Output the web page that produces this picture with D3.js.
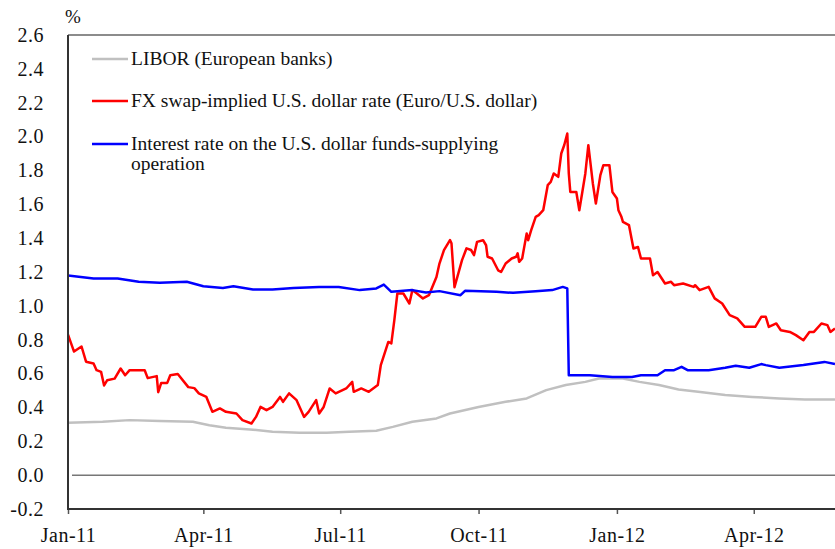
<!DOCTYPE html>
<html>
<head>
<meta charset="utf-8">
<script src="https://cdn.jsdelivr.net/npm/d3@7"></script>
<style>
  body { margin: 0; background: #fff; }
  text { font-family: "Liberation Serif", "Times New Roman", serif; fill: #111; }
</style>
</head>
<body>
<script>
// LIBOR (European banks), %
var liborData = [
    ["2011-01-01", 0.31], ["2011-01-24", 0.315], ["2011-02-11", 0.325], ["2011-03-03", 0.32],
    ["2011-03-25", 0.315], ["2011-04-05", 0.295], ["2011-04-16", 0.28], ["2011-05-02", 0.27],
    ["2011-05-17", 0.256], ["2011-06-04", 0.25], ["2011-06-22", 0.25], ["2011-07-07", 0.256],
    ["2011-07-25", 0.262], ["2011-08-05", 0.285], ["2011-08-18", 0.315], ["2011-09-03", 0.335],
    ["2011-09-12", 0.364], ["2011-10-01", 0.403], ["2011-10-19", 0.433], ["2011-11-02", 0.453],
    ["2011-11-15", 0.502], ["2011-11-28", 0.532], ["2011-12-11", 0.551], ["2011-12-20", 0.571],
    ["2012-01-05", 0.571], ["2012-01-16", 0.551], ["2012-01-29", 0.532], ["2012-02-11", 0.506],
    ["2012-02-24", 0.492], ["2012-03-13", 0.473], ["2012-03-31", 0.462], ["2012-04-18", 0.453],
    ["2012-05-05", 0.447], ["2012-05-25", 0.447]
];

// FX swap-implied U.S. dollar rate (Euro/U.S. dollar), %
var fxData = [
    ["2011-01-01", 0.83], ["2011-01-05", 0.73], ["2011-01-10", 0.76], ["2011-01-13", 0.67],
    ["2011-01-18", 0.66], ["2011-01-20", 0.62], ["2011-01-23", 0.61], ["2011-01-25", 0.53],
    ["2011-01-27", 0.56], ["2011-02-01", 0.57], ["2011-02-05", 0.63], ["2011-02-08", 0.59],
    ["2011-02-11", 0.62], ["2011-02-21", 0.62], ["2011-02-23", 0.573], ["2011-03-01", 0.585],
    ["2011-03-02", 0.49], ["2011-03-04", 0.545], ["2011-03-08", 0.545], ["2011-03-10", 0.59],
    ["2011-03-15", 0.597], ["2011-03-22", 0.52], ["2011-03-26", 0.514], ["2011-03-29", 0.483],
    ["2011-04-03", 0.462], ["2011-04-07", 0.374], ["2011-04-12", 0.394], ["2011-04-16", 0.374],
    ["2011-04-23", 0.364], ["2011-04-27", 0.325], ["2011-05-03", 0.305], ["2011-05-06", 0.344],
    ["2011-05-09", 0.403], ["2011-05-13", 0.384], ["2011-05-17", 0.403], ["2011-05-22", 0.462],
    ["2011-05-24", 0.433], ["2011-05-28", 0.483], ["2011-06-02", 0.443], ["2011-06-07", 0.344],
    ["2011-06-10", 0.374], ["2011-06-15", 0.443], ["2011-06-17", 0.364], ["2011-06-20", 0.403],
    ["2011-06-24", 0.512], ["2011-06-28", 0.483], ["2011-07-05", 0.512], ["2011-07-09", 0.551],
    ["2011-07-10", 0.492], ["2011-07-15", 0.512], ["2011-07-20", 0.492], ["2011-07-26", 0.532],
    ["2011-07-28", 0.65], ["2011-08-02", 0.787], ["2011-08-04", 0.778], ["2011-08-06", 0.916],
    ["2011-08-08", 1.073], ["2011-08-12", 1.073], ["2011-08-16", 1.014], ["2011-08-18", 1.093],
    ["2011-08-21", 1.073], ["2011-08-25", 1.044], ["2011-08-29", 1.063], ["2011-09-03", 1.171],
    ["2011-09-05", 1.25], ["2011-09-08", 1.329], ["2011-09-12", 1.388], ["2011-09-13", 1.37],
    ["2011-09-15", 1.11], ["2011-09-20", 1.27], ["2011-09-23", 1.34], ["2011-09-26", 1.33],
    ["2011-09-28", 1.30], ["2011-09-30", 1.378], ["2011-10-04", 1.388], ["2011-10-06", 1.358],
    ["2011-10-07", 1.29], ["2011-10-10", 1.28], ["2011-10-14", 1.21], ["2011-10-16", 1.20],
    ["2011-10-19", 1.25], ["2011-10-23", 1.28], ["2011-10-26", 1.29], ["2011-10-27", 1.31],
    ["2011-10-28", 1.26], ["2011-10-30", 1.28], ["2011-11-02", 1.428], ["2011-11-03", 1.388],
    ["2011-11-05", 1.447], ["2011-11-08", 1.526], ["2011-11-10", 1.536], ["2011-11-13", 1.565],
    ["2011-11-16", 1.713], ["2011-11-18", 1.732], ["2011-11-20", 1.782], ["2011-11-23", 1.762],
    ["2011-11-25", 1.90], ["2011-11-27", 1.95], ["2011-11-29", 2.018], ["2011-11-30", 1.782],
    ["2011-12-01", 1.673], ["2011-12-05", 1.673], ["2011-12-07", 1.565], ["2011-12-09", 1.673],
    ["2011-12-11", 1.782], ["2011-12-13", 1.949], ["2011-12-16", 1.723], ["2011-12-18", 1.605],
    ["2011-12-21", 1.772], ["2011-12-23", 1.831], ["2011-12-27", 1.831], ["2011-12-29", 1.673],
    ["2012-01-01", 1.634], ["2012-01-02", 1.565], ["2012-01-04", 1.526], ["2012-01-05", 1.496],
    ["2012-01-09", 1.477], ["2012-01-12", 1.339], ["2012-01-15", 1.348], ["2012-01-17", 1.28],
    ["2012-01-23", 1.28], ["2012-01-25", 1.181], ["2012-01-28", 1.20], ["2012-02-02", 1.132],
    ["2012-02-06", 1.142], ["2012-02-08", 1.122], ["2012-02-14", 1.132], ["2012-02-21", 1.112],
    ["2012-02-22", 1.122], ["2012-02-25", 1.093], ["2012-03-02", 1.112], ["2012-03-06", 1.044],
    ["2012-03-11", 1.014], ["2012-03-16", 0.945], ["2012-03-21", 0.926], ["2012-03-26", 0.876],
    ["2012-04-02", 0.876], ["2012-04-06", 0.935], ["2012-04-09", 0.935], ["2012-04-11", 0.876],
    ["2012-04-16", 0.896], ["2012-04-19", 0.856], ["2012-04-25", 0.846], ["2012-04-29", 0.827],
    ["2012-05-04", 0.797], ["2012-05-08", 0.846], ["2012-05-11", 0.846], ["2012-05-16", 0.896],
    ["2012-05-20", 0.886], ["2012-05-22", 0.846], ["2012-05-25", 0.866]
];

// Interest rate on the U.S. dollar funds-supplying operation, %
var opData = [
    ["2011-01-01", 1.18], ["2011-01-18", 1.162], ["2011-02-03", 1.162], ["2011-02-17", 1.142],
    ["2011-03-03", 1.136], ["2011-03-21", 1.142], ["2011-04-01", 1.116], ["2011-04-14", 1.106],
    ["2011-04-21", 1.116], ["2011-05-04", 1.097], ["2011-05-17", 1.097], ["2011-05-31", 1.106],
    ["2011-06-17", 1.112], ["2011-06-30", 1.112], ["2011-07-14", 1.093], ["2011-07-25", 1.103],
    ["2011-07-30", 1.126], ["2011-08-04", 1.083], ["2011-08-18", 1.093], ["2011-08-27", 1.079],
    ["2011-09-05", 1.087], ["2011-09-19", 1.063], ["2011-09-22", 1.089], ["2011-10-13", 1.083],
    ["2011-10-24", 1.077], ["2011-11-08", 1.087], ["2011-11-19", 1.093], ["2011-11-26", 1.112],
    ["2011-11-29", 1.103], ["2011-11-30", 0.59], ["2011-12-14", 0.59], ["2011-12-29", 0.58],
    ["2012-01-11", 0.58], ["2012-01-17", 0.59], ["2012-01-28", 0.59], ["2012-02-02", 0.62],
    ["2012-02-08", 0.62], ["2012-02-13", 0.64], ["2012-02-17", 0.62], ["2012-03-02", 0.62],
    ["2012-03-13", 0.634], ["2012-03-20", 0.646], ["2012-03-29", 0.634], ["2012-04-06", 0.656],
    ["2012-04-09", 0.65], ["2012-04-18", 0.634], ["2012-05-04", 0.65], ["2012-05-18", 0.669],
    ["2012-05-25", 0.656]
];

var yTicks = [-0.2, 0.0, 0.2, 0.4, 0.6, 0.8, 1.0, 1.2, 1.4, 1.6, 1.8, 2.0, 2.2, 2.4, 2.6];
var xTicks = ["2011-01-01", "2011-04-01", "2011-07-01", "2011-10-01", "2012-01-01", "2012-04-01"];
var legendLabels = [
    ["LIBOR (European banks)"],
    ["FX swap-implied U.S. dollar rate (Euro/U.S. dollar)"],
    ["Interest rate on the U.S. dollar funds-supplying", "operation"]
];
var seriesColors = ["#c0c0c0", "#ff0000", "#0000ff"];

// plot box (window.top is read-only, so no "top" variable here)
var width = 835, height = 549;
var plotLeft = 68, plotTop = 35, plotBottom = 509, plotRight = 835;

var parseDate = d3.timeParse("%Y-%m-%d");

var x = d3.scaleTime()
    .domain([new Date(2011, 0, 1), new Date(2012, 4, 31)])
    .range([plotLeft, 844]);
var y = d3.scaleLinear()
    .domain([-0.2, 2.6])
    .range([plotBottom, plotTop]);

var svg = d3.select("body").append("svg")
    .attr("width", width)
    .attr("height", height);

svg.append("defs").append("clipPath").attr("id", "plot")
    .append("rect")
    .attr("x", plotLeft).attr("y", plotTop - 5)
    .attr("width", plotRight - plotLeft).attr("height", plotBottom - plotTop + 5);

// frame top line
svg.append("line")
    .attr("x1", plotLeft).attr("x2", plotRight)
    .attr("y1", plotTop).attr("y2", plotTop)
    .attr("stroke", "#666").attr("stroke-width", 1.5);

// zero line
svg.append("line")
    .attr("x1", plotLeft + 4).attr("x2", plotRight)
    .attr("y1", y(0)).attr("y2", y(0))
    .attr("stroke", "#777").attr("stroke-width", 1.5);

// the lines
var valueline = d3.line()
    .x(function (d) { return x(parseDate(d[0])); })
    .y(function (d) { return y(d[1]); });

var g = svg.append("g").attr("clip-path", "url(#plot)");
[liborData, fxData, opData].forEach(function (data, i) {
    g.append("path")
        .datum(data)
        .attr("fill", "none")
        .attr("stroke", seriesColors[i])
        .attr("stroke-width", 2.5)
        .attr("stroke-linejoin", "round")
        .attr("d", valueline);
});

// X axis
var xAxis = svg.append("g")
    .attr("transform", "translate(0," + plotBottom + ")")
    .call(d3.axisBottom(x)
        .tickValues(xTicks.map(parseDate))
        .tickSize(5)
        .tickPadding(14)
        .tickFormat(d3.timeFormat("%b-%y")));
xAxis.select(".domain").remove();
xAxis.selectAll(".tick line").attr("stroke", "#555").attr("stroke-width", 1.5);
xAxis.selectAll("text")
    .style("font-size", "20px")
    .style("font-family", "Liberation Serif, serif")
    .style("letter-spacing", "0.5px")
    .attr("fill", "#111");
svg.append("line")
    .attr("x1", plotLeft).attr("x2", plotRight)
    .attr("y1", plotBottom).attr("y2", plotBottom)
    .attr("stroke", "#333").attr("stroke-width", 2);

// Y axis
var yAxis = svg.append("g")
    .attr("transform", "translate(" + plotLeft + ",0)")
    .call(d3.axisLeft(y)
        .tickValues(yTicks)
        .tickSize(0)
        .tickPadding(24)
        .tickFormat(function (d) { return d.toFixed(1); }));
yAxis.select(".domain").remove();
yAxis.selectAll("text")
    .style("font-size", "20px")
    .style("font-family", "Liberation Serif, serif")
    .style("letter-spacing", "0.5px")
    .attr("fill", "#111");
svg.append("line")
    .attr("x1", plotLeft).attr("x2", plotLeft)
    .attr("y1", plotTop).attr("y2", plotBottom + 1)
    .attr("stroke", "#333").attr("stroke-width", 2);

svg.append("text")
    .attr("x", 73).attr("y", 23)
    .attr("text-anchor", "middle")
    .style("font-size", "19px")
    .text("%");

// legend
var legendY = [59, 101, 144];
legendLabels.forEach(function (lines, i) {
    svg.append("line")
        .attr("x1", 92).attr("x2", 128)
        .attr("y1", legendY[i]).attr("y2", legendY[i])
        .attr("stroke", seriesColors[i]).attr("stroke-width", 2.5);
    lines.forEach(function (t, j) {
        svg.append("text")
            .attr("x", 131)
            .attr("y", legendY[i] + 6 + j * 20)
            .style("font-size", "19.5px")
            .text(t);
    });
});
</script>
</body>
</html>
